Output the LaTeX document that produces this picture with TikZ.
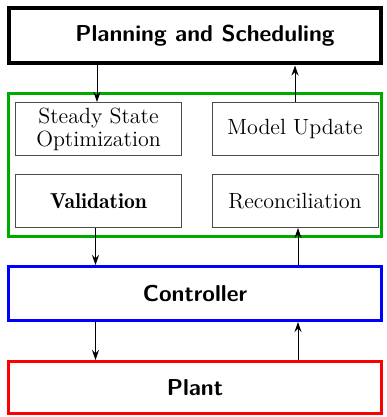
\documentclass[tikz,border=0pt]{standalone}
\usepackage{fontspec}
\newfontfamily\demifont{lmromandemi10-regular.otf}
\usetikzlibrary{arrows.meta}
\begin{document}
\begin{tikzpicture}[x=0.5pt,y=-0.5pt,
  bigbox/.style={draw,minimum width=186pt,inner sep=0pt,font=\fontsize{11.5}{13}\selectfont\sffamily\bfseries},
  inbox/.style={draw=black!70,line width=0.5pt,minimum width=83pt,minimum height=26.5pt,inner sep=0pt,align=center,font=\fontsize{11}{11.5}\selectfont\rmfamily},
  arr/.style={-{Stealth[length=5pt,width=3.5pt]},line width=0.5pt}]
\useasboundingbox (0,0) rectangle (386,417);
\node[bigbox,line width=2pt,minimum height=27.5pt] (plan) at (195,36) {\hspace*{10pt}Planning and Scheduling};
\node[draw=green!67!black,line width=1.5pt,minimum width=186.5pt,minimum height=71.5pt,inner sep=0pt] (opt) at (195,165) {};
\node[inbox] (sso) at (98.5,129) {Steady State\\Optimization};
\node[inbox] (mu) at (295,129) {Model Update};
\node[inbox,font=\fontsize{10.8}{11.5}\selectfont\demifont] (val) at (98.5,201) {Validation};
\node[inbox] (rec) at (295,201) {Reconciliation};
\node[bigbox,draw=blue,line width=1.5pt,minimum width=186.5pt,minimum height=27pt] (ctrl) at (195,293.5) {Controller};
\node[bigbox,draw=red,line width=1.5pt,minimum width=186.5pt,minimum height=26pt] (plant) at (195,387.5) {Plant};
\draw[arr] ([xshift=-0.75pt]sso.north |- plan.south) -- ([xshift=-0.75pt]sso.north);
\draw[arr] (mu.north) -- (mu.north |- plan.south);
\draw[arr] ([xshift=-1.5pt]val.south) -- ([xshift=-1.5pt]val.south |- ctrl.north);
\draw[arr] ([xshift=1.5pt]rec.south |- ctrl.north) -- ([xshift=1.5pt]rec.south);
\draw[arr] ([xshift=-1.5pt]val.south |- ctrl.south) -- ([xshift=-1.5pt]val.south |- plant.north);
\draw[arr] ([xshift=1.5pt]rec.south |- plant.north) -- ([xshift=1.5pt]rec.south |- ctrl.south);
\end{tikzpicture}
\end{document}
